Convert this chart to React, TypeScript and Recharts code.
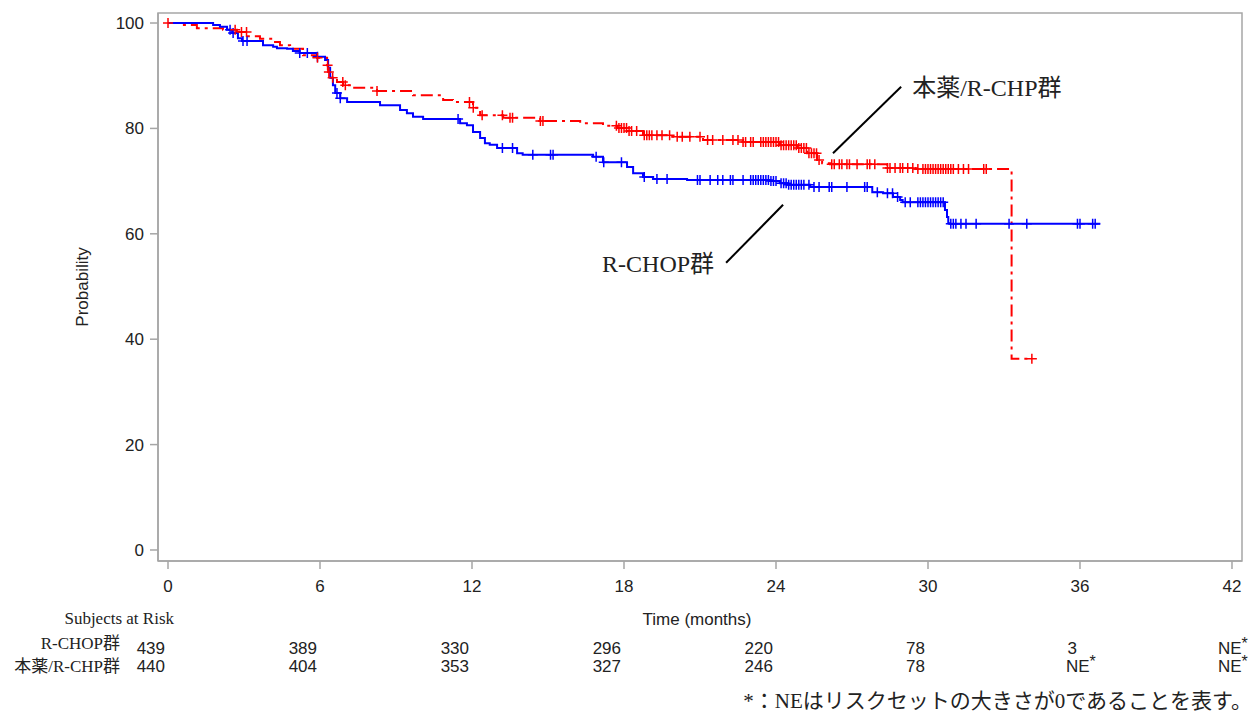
import {
  ComposedChart,
  Line,
  Scatter,
  XAxis,
  YAxis,
  ReferenceArea,
  ReferenceLine,
  ReferenceDot,
} from 'recharts';

const SANS = '"Liberation Sans", Arial, sans-serif';
const SERIF = '"Liberation Serif", "Noto Sans CJK JP", serif';
const INK = '#222';
const AXIS = '#a6a6a6';
const BLUE = '#0000ff';
const RED = '#ff0000';

const X_MIN = -0.395;
const X_MAX = 42.395;
const Y_MIN = -2.09;
const Y_MAX = 101.9;

const timeTicks = [0, 6, 12, 18, 24, 30, 36, 42];
const probTicks = [0, 20, 40, 60, 80, 100];

// subjects at risk, one entry per time tick ('NE' = risk set of size 0)
const riskRchop = ['439', '389', '330', '296', '220', '78', '3', 'NE'];
const riskDrug = ['440', '404', '353', '327', '246', '78', 'NE', 'NE'];

// Kaplan-Meier steps: [month, survival %]
const rchopSteps: [number, number][] = [
  [0, 100], [1.78, 99.6], [2.05, 99.3], [2.33, 98.7], [2.53, 98.1], [2.76, 97.1],
  [2.92, 96.6], [3.75, 95.8], [4.15, 95.5], [4.3, 95.2], [4.7, 95.1], [4.93, 94.7],
  [5.2, 94.3], [5.88, 93.6], [6.2, 93.0], [6.32, 91.5], [6.4, 89.6], [6.51, 88.2],
  [6.6, 86.7], [6.8, 85.7], [7.07, 85.0], [8.37, 84.4], [9.16, 83.5], [9.43, 82.9],
  [9.67, 82.2], [10.07, 81.8], [11.53, 81.0], [11.8, 80.6], [12.04, 79.3], [12.32, 78.2],
  [12.51, 77.2], [12.7, 76.9], [12.99, 76.3], [13.78, 75.3], [14.0, 75.0], [16.78, 74.6],
  [17.17, 73.6], [18.12, 72.7], [18.36, 71.5], [18.75, 70.8], [19.15, 70.4], [20.49, 70.2],
  [23.77, 70.0], [24.16, 69.6], [24.44, 69.3], [25.35, 68.9], [27.8, 67.9], [28.23, 67.7],
  [28.62, 67.0], [28.9, 66.4], [29.0, 66.0], [30.67, 64.5], [30.75, 63.2], [30.8, 62.0],
  [30.85, 61.9],
];
const rchopLast = 36.8;
const rchopCensored = [
  2.45, 2.57, 2.96, 3.12, 5.2, 5.5, 5.9, 6.67, 6.8, 11.45, 13.2, 13.6, 14.4, 15.1, 15.2,
  16.9, 17.2, 17.9, 18.8, 19.3, 19.7, 20.9, 21.0, 21.4, 21.7, 21.9, 22.2, 22.3, 22.7,
  23.0, 23.1, 23.2, 23.3, 23.4, 23.5, 23.6, 23.7, 23.8, 23.9, 24.0, 24.2, 24.3, 24.4,
  24.5, 24.6, 24.7, 24.8, 24.9, 25.0, 25.1, 25.3, 25.5, 25.7, 26.1, 26.2, 26.8, 27.5,
  27.6, 28.0, 28.4, 28.6, 28.8, 29.1, 29.3, 29.6, 29.7, 29.8, 29.9, 30.0, 30.1, 30.2,
  30.3, 30.4, 30.5, 30.6, 30.9, 31.0, 31.1, 31.3, 31.5, 31.9, 33.2, 33.9, 35.9, 36.0,
  36.5, 36.6,
];

const drugSteps: [number, number][] = [
  [0, 100], [0.47, 99.6], [1.14, 99.0], [2.17, 98.7], [2.72, 98.3], [3.12, 97.5],
  [3.63, 97.0], [4.15, 96.4], [4.42, 95.8], [4.82, 95.1], [5.33, 93.9], [5.88, 93.4],
  [6.28, 92.0], [6.32, 90.7], [6.4, 89.6], [6.67, 88.8], [6.91, 88.2], [7.3, 87.7],
  [8.25, 87.1], [9.67, 86.3], [10.86, 85.4], [11.25, 85.0], [12.04, 83.9], [12.32, 82.5],
  [13.23, 82.0], [14.69, 81.4], [16.27, 81.0], [17.17, 80.5], [17.73, 80.1], [18.12, 79.5],
  [18.75, 78.7], [19.82, 78.4], [21.12, 77.8], [22.7, 77.4], [24.16, 76.8], [24.83, 76.3],
  [25.23, 75.3], [25.62, 74.0], [25.82, 73.4], [26.13, 73.2], [28.39, 72.5], [29.5, 72.3],
  [33.3, 36.3],
];
const drugLast = 34.1;
const drugCensored = [
  0, 2.65, 2.9, 3.1, 5.9, 6.3, 6.35, 6.5, 6.9, 7.0, 8.25, 11.9, 12.05, 12.4, 13.2, 13.5,
  13.6, 14.7, 14.8, 17.7, 17.8, 17.9, 18.0, 18.1, 18.2, 18.3, 18.5, 18.8, 18.9, 19.0,
  19.1, 19.3, 19.5, 19.8, 20.1, 20.3, 20.6, 21.0, 21.3, 21.5, 21.9, 22.3, 22.5, 22.7,
  22.8, 23.0, 23.1, 23.4, 23.5, 23.6, 23.7, 23.8, 23.9, 24.0, 24.1, 24.2, 24.3, 24.4,
  24.5, 24.6, 24.7, 24.8, 24.9, 25.0, 25.1, 25.2, 25.3, 25.4, 25.5, 25.6, 25.7, 26.2,
  26.3, 26.5, 26.6, 26.8, 26.9, 27.2, 27.6, 27.7, 27.9, 28.4, 28.5, 28.7, 28.9, 29.0,
  29.2, 29.4, 29.6, 29.8, 29.9, 30.0, 30.1, 30.2, 30.3, 30.4, 30.5, 30.6, 30.7, 30.8,
  30.9, 31.0, 31.2, 31.4, 31.6, 32.2, 32.3, 34.1,
];

// value of a step curve at time t (last step at or before t)
const survAt = (steps: [number, number][], t: number) => {
  let v = steps[0][1];
  for (const [s, p] of steps) if (s <= t) v = p;
  return v;
};

const toLine = (steps: [number, number][], last: number) => [
  ...steps.map(([t, v]) => ({ t, v })),
  { t: last, v: steps[steps.length - 1][1] },
];

const toMarks = (steps: [number, number][], times: number[]) =>
  times.map((t) => ({ t, v: survAt(steps, t) }));

const rchopLine = toLine(rchopSteps, rchopLast);
const drugLine = toLine(drugSteps, drugLast);
const rchopMarks = toMarks(rchopSteps, rchopCensored);
const drugMarks = toMarks(drugSteps, drugCensored);

const plus = (color: string) => (props: any) => {
  const { cx, cy } = props;
  return (
    <path
      d={`M${cx - 5},${cy}H${cx + 5}M${cx},${cy - 5}V${cy + 5}`}
      stroke={color}
      strokeWidth={1.5}
      fill="none"
    />
  );
};

function RiskCell({ x, y, value }: { x: number; y: number; value: string }) {
  if (value === 'NE') {
    return (
      <text x={x - 14} y={y} textAnchor="start" fontSize={17} fontFamily={SANS} fill={INK}>
        NE
        <tspan dy={-5} fontSize={16}>*</tspan>
      </text>
    );
  }
  return (
    <text x={x - 3} y={y} textAnchor="end" fontSize={17} fontFamily={SANS} fill={INK}>
      {value}
    </text>
  );
}

function TimeTick(props: any) {
  const { x, y, payload } = props;
  const i = timeTicks.indexOf(payload.value);
  return (
    <g>
      <text x={x} y={y} dy="0.71em" textAnchor="middle" fontSize={17} fontFamily={SANS} fill={INK}>
        {payload.value}
      </text>
      <RiskCell x={x} y={y + 74} value={riskRchop[i]} />
      <RiskCell x={x} y={y + 92} value={riskDrug[i]} />
    </g>
  );
}

function TimeTitle(props: any) {
  const { x, y, width } = props.viewBox;
  return (
    <text x={x + width / 2 - 3} y={y + 64} textAnchor="middle" fontSize={17} fontFamily={SANS} fill={INK}>
      Time (months)
    </text>
  );
}

function ProbTitle(props: any) {
  const { x, y, height } = props.viewBox;
  const tx = x + 20;
  const ty = y + height / 2;
  return (
    <text
      x={tx}
      y={ty}
      transform={`rotate(-90 ${tx} ${ty})`}
      textAnchor="middle"
      fontSize={17}
      fontFamily={SANS}
      fill={INK}
    >
      Probability
    </text>
  );
}

function GroupLabel(props: any) {
  const { viewBox, text, side } = props;
  const right = side === 'right';
  return (
    <text
      x={right ? viewBox.x + 11 : viewBox.x - 12}
      y={viewBox.y + 9}
      textAnchor={right ? 'start' : 'end'}
      fontSize={24}
      fontFamily={SERIF}
      fill={INK}
    >
      {text}
    </text>
  );
}

export default function App() {
  return (
    <div style={{ position: 'absolute', left: 0, top: 0, width: 1256, height: 713, background: '#fff' }}>
      <ComposedChart
        width={1256}
        height={713}
        margin={{ top: 13, right: 14, bottom: 82, left: 68 }}
      >
        <XAxis
          type="number"
          dataKey="t"
          domain={[X_MIN, X_MAX]}
          ticks={timeTicks}
          interval={0}
          allowDataOverflow
          height={70}
          tickSize={8}
          tickMargin={11}
          axisLine={{ stroke: AXIS, strokeWidth: 1.5 }}
          tickLine={{ stroke: AXIS, strokeWidth: 1.5 }}
          tick={<TimeTick />}
          label={<TimeTitle />}
        />
        <YAxis
          type="number"
          dataKey="v"
          domain={[Y_MIN, Y_MAX]}
          ticks={probTicks}
          interval={0}
          allowDataOverflow
          width={90}
          tickSize={8}
          tickMargin={6}
          axisLine={{ stroke: AXIS, strokeWidth: 1.5 }}
          tickLine={{ stroke: AXIS, strokeWidth: 1.5 }}
          tick={{ fontSize: 17, fontFamily: SANS, fill: INK }}
          label={<ProbTitle />}
        />
        <ReferenceArea
          x1={X_MIN}
          x2={X_MAX}
          y1={Y_MIN}
          y2={Y_MAX}
          fill="none"
          stroke={AXIS}
          strokeWidth={1.5}
          ifOverflow="visible"
        />
        <Line
          data={drugLine}
          dataKey="v"
          type="stepAfter"
          stroke={RED}
          strokeWidth={2}
          strokeDasharray="12 5 3 5"
          dot={false}
          activeDot={false}
          isAnimationActive={false}
        />
        <Line
          data={rchopLine}
          dataKey="v"
          type="stepAfter"
          stroke={BLUE}
          strokeWidth={2}
          dot={false}
          activeDot={false}
          isAnimationActive={false}
        />
        <Scatter data={rchopMarks} dataKey="v" shape={plus(BLUE)} isAnimationActive={false} />
        <Scatter data={drugMarks} dataKey="v" shape={plus(RED)} isAnimationActive={false} />
        <ReferenceLine
          segment={[{ x: 26.25, y: 75.3 }, { x: 28.94, y: 87.9 }]}
          stroke="#000"
          strokeWidth={2}
        />
        <ReferenceLine
          segment={[{ x: 22.03, y: 54.5 }, { x: 24.28, y: 65.5 }]}
          stroke="#000"
          strokeWidth={2}
        />
        <ReferenceDot
          x={28.94}
          y={87.9}
          r={0}
          fill="none"
          stroke="none"
          label={<GroupLabel text="本薬/R-CHP群" side="right" />}
        />
        <ReferenceDot
          x={22.03}
          y={54.5}
          r={0}
          fill="none"
          stroke="none"
          label={<GroupLabel text="R-CHOP群" side="left" />}
        />
      </ComposedChart>
      <svg
        width={1256}
        height={713}
        style={{ position: 'absolute', left: 0, top: 0, pointerEvents: 'none' }}
      >
        <text x={174} y={624} textAnchor="end" fontSize={17} fontFamily={SERIF} fill={INK}>
          Subjects at Risk
        </text>
        <text x={120} y={649} textAnchor="end" fontSize={17} fontFamily={SERIF} fill={INK}>
          R-CHOP群
        </text>
        <text x={120} y={672} textAnchor="end" fontSize={17} fontFamily={SERIF} fill={INK}>
          本薬/R-CHP群
        </text>
        <text x={1252} y={708} textAnchor="end" fontSize={21} fontFamily={SERIF} fill={INK}>
          *：NEはリスクセットの大きさが0であることを表す。
        </text>
      </svg>
    </div>
  );
}
